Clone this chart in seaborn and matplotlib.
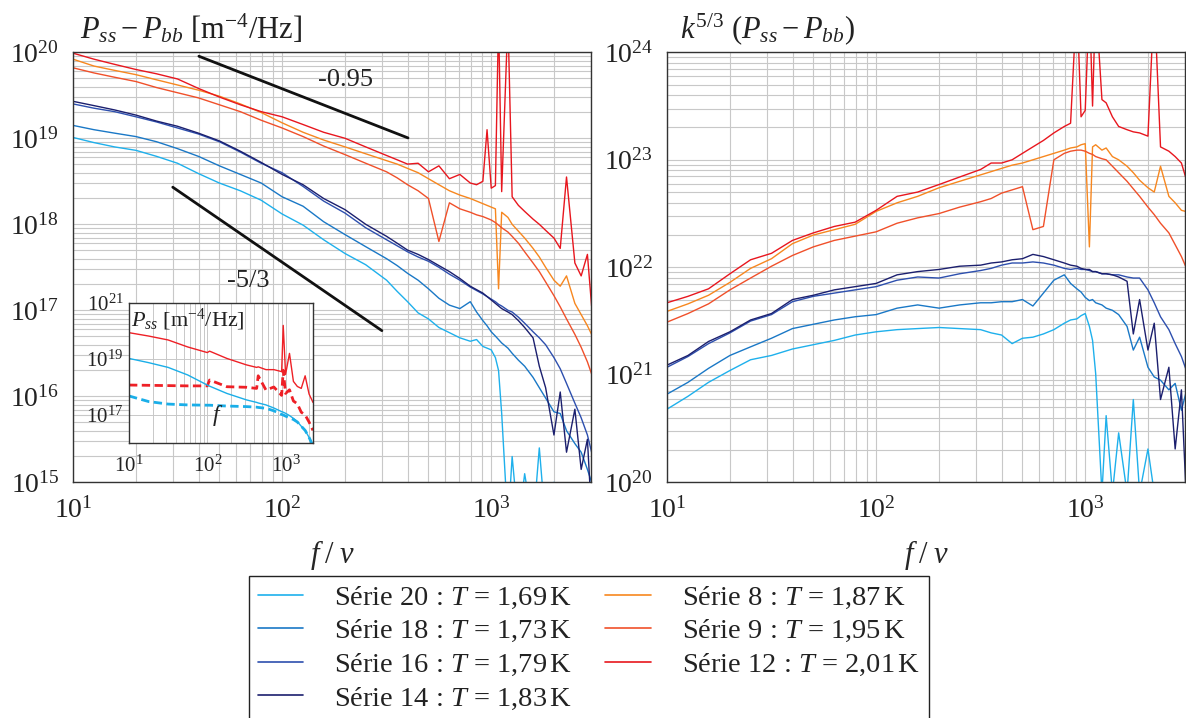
import numpy as np
import pandas as pd
import seaborn as sns
import matplotlib.pyplot as plt
from matplotlib.lines import Line2D
from matplotlib.ticker import LogLocator, LogFormatterSciNotation, NullFormatter, FixedLocator

# frequency grid (Hz), shared by every series of the two main panels
freq_hz = [10, 12.6, 15.8, 20, 25.1, 31.6, 39.8, 50.1, 63.1, 79.4, 100, 126, 158, 200, 251, 316,
           355, 398, 447, 501, 562, 631, 708, 794, 851, 912, 955, 1000, 1047, 1084, 1122, 1202,
           1259, 1349, 1445, 1585, 1698, 1820, 1995, 2138, 2291, 2512, 2692, 2884, 3020]

# left panel : log10(P_ss - P_bb)
p20 = [19.01, 18.95, 18.90, 18.86, 18.79, 18.71, 18.59, 18.48, 18.39, 18.28, 18.12, 17.99, 17.82, 17.66, 17.53, 17.35,
       17.22, 17.10, 16.97, 16.90, 16.80, 16.74, 16.68, 16.64, 16.66, 16.58, 16.56, 16.54, 16.45, 16.30, 15.80, 14.5,
       15.30, 14.5, 15.10, 14.5, 15.40, 14.5, 15.00, 14.5, 14.5, 14.5, 14.5, 14.5, 14.5]
p18 = [19.15, 19.10, 19.06, 19.02, 18.96, 18.88, 18.79, 18.68, 18.58, 18.48, 18.32, 18.21, 18.03, 17.88, 17.74, 17.60,
       17.52, 17.43, 17.35, 17.25, 17.14, 17.06, 17.02, 17.10, 16.98, 16.88, 16.82, 16.75, 16.70, 16.66, 16.62, 16.56,
       16.50, 16.42, 16.35, 16.22, 16.10, 15.98, 15.82, 15.80, 15.60, 15.45, 15.35, 15.15, 15.00]
p16 = [19.40, 19.35, 19.31, 19.25, 19.19, 19.12, 19.05, 18.96, 18.84, 18.71, 18.60, 18.44, 18.27, 18.13, 17.96, 17.82,
       17.75, 17.68, 17.62, 17.57, 17.50, 17.42, 17.35, 17.27, 17.23, 17.19, 17.16, 17.13, 17.10, 17.07, 17.05, 17.00,
       16.98, 16.92, 16.85, 16.75, 16.68, 16.60, 16.45, 16.32, 16.15, 15.92, 15.75, 15.55, 15.35]
p14 = [19.43, 19.38, 19.33, 19.27, 19.20, 19.14, 19.06, 18.97, 18.85, 18.72, 18.58, 18.46, 18.30, 18.17, 18.00, 17.86,
       17.78, 17.70, 17.65, 17.59, 17.52, 17.45, 17.37, 17.28, 17.24, 17.20, 17.16, 17.12, 17.08, 17.05, 17.02, 16.98,
       16.95, 16.88, 16.80, 16.68, 16.35, 16.10, 15.55, 16.05, 15.35, 15.85, 15.15, 15.50, 14.60]
p8 = [19.92, 19.84, 19.79, 19.74, 19.68, 19.62, 19.56, 19.49, 19.40, 19.30, 19.18, 19.07, 18.98, 18.90, 18.82, 18.74,
      18.70, 18.65, 18.60, 18.53, 18.46, 18.39, 18.34, 18.30, 18.27, 18.24, 18.22, 18.20, 18.18, 17.25, 18.14, 18.08,
      18.00, 17.92, 17.84, 17.72, 17.62, 17.50, 17.35, 17.28, 17.40, 17.08, 16.95, 16.82, 16.72]
p9 = [19.82, 19.76, 19.71, 19.66, 19.59, 19.53, 19.47, 19.39, 19.31, 19.21, 19.12, 19.02, 18.91, 18.81, 18.71, 18.61,
      18.54, 18.46, 18.39, 18.30, 17.80, 18.25, 18.18, 18.14, 18.11, 18.09, 18.07, 18.05, 18.02, 17.99, 17.96, 17.91,
      17.86, 17.78, 17.68, 17.55, 17.45, 17.33, 17.17, 17.04, 16.90, 16.72, 16.57, 16.40, 16.26]
p12 = [19.99, 19.92, 19.86, 19.80, 19.75, 19.69, 19.58, 19.48, 19.39, 19.31, 19.25, 19.16, 19.07, 19.00, 18.90, 18.80,
       18.75, 18.70, 18.71, 18.61, 18.68, 18.53, 18.58, 18.48, 18.46, 18.50, 19.10, 18.42, 18.45, 20.40, 18.38, 20.40,
       18.32, 18.22, 18.15, 18.06, 18.00, 17.93, 17.84, 17.72, 18.55, 17.55, 17.40, 17.65, 17.05]

# right panel : log10(k^(5/3) (P_ss - P_bb))
k20 = [20.68, 20.80, 20.93, 21.04, 21.14, 21.18, 21.24, 21.28, 21.32, 21.37, 21.40, 21.42, 21.43, 21.44, 21.43, 21.42,
       21.39, 21.37, 21.29, 21.34, 21.35, 21.38, 21.42, 21.48, 21.51, 21.52, 21.55, 21.57, 21.45, 21.32, 21.01, 19.9,
       20.62, 19.9, 20.46, 19.9, 20.77, 19.9, 20.31, 19.9, 19.9, 19.9, 19.9, 19.9, 19.9]
k18 = [20.82, 20.93, 21.06, 21.18, 21.26, 21.34, 21.43, 21.47, 21.51, 21.54, 21.56, 21.62, 21.65, 21.62, 21.65, 21.67,
       21.67, 21.68, 21.68, 21.70, 21.64, 21.76, 21.88, 21.93, 21.85, 21.80, 21.77, 21.72, 21.69, 21.70, 21.67, 21.65,
       21.62, 21.60, 21.56, 21.45, 21.23, 21.35, 21.07, 20.98, 20.95, 20.86, 20.92, 20.67, 20.82]
k16 = [21.07, 21.17, 21.29, 21.39, 21.50, 21.56, 21.68, 21.73, 21.76, 21.79, 21.82, 21.88, 21.91, 21.90, 21.94, 21.97,
       21.99, 22.02, 22.04, 22.04, 22.05, 22.04, 22.02, 21.99, 21.98, 21.99, 21.98, 21.98, 21.97, 21.96, 21.96, 21.94,
       21.94, 21.93, 21.93, 21.91, 21.90, 21.90, 21.79, 21.67, 21.54, 21.42, 21.29, 21.17, 21.06]
k14 = [21.09, 21.18, 21.31, 21.40, 21.51, 21.57, 21.70, 21.74, 21.79, 21.82, 21.85, 21.93, 21.96, 21.98, 22.01, 22.02,
       22.04, 22.05, 22.07, 22.08, 22.12, 22.10, 22.07, 22.04, 22.02, 22.01, 21.99, 21.98, 21.98, 21.96, 21.96, 21.94,
       21.94, 21.93, 21.91, 21.87, 21.38, 21.70, 21.23, 21.48, 20.77, 21.07, 20.31, 20.86, 19.99]
k8 = [21.59, 21.66, 21.74, 21.86, 21.99, 22.08, 22.22, 22.30, 22.35, 22.40, 22.52, 22.60, 22.66, 22.74, 22.80, 22.86,
      22.89, 22.92, 22.95, 22.97, 23.00, 23.03, 23.06, 23.09, 23.11, 23.12, 23.14, 23.15, 22.19, 23.12, 23.14, 23.09,
      23.11, 23.03, 23.00, 22.94, 22.88, 22.81, 22.74, 22.70, 22.94, 22.66, 22.60, 22.53, 22.52]
k9 = [21.49, 21.57, 21.66, 21.79, 21.90, 22.01, 22.11, 22.19, 22.25, 22.29, 22.33, 22.41, 22.46, 22.50, 22.56, 22.61,
      22.64, 22.69, 22.72, 22.75, 22.35, 22.38, 23.00, 23.06, 23.08, 23.09, 23.09, 23.08, 23.06, 23.05, 23.03, 23.01,
      23.00, 22.94, 22.88, 22.80, 22.73, 22.66, 22.56, 22.49, 22.41, 22.32, 22.21, 22.10, 22.01]
k12 = [21.67, 21.73, 21.80, 21.94, 22.07, 22.13, 22.25, 22.32, 22.38, 22.42, 22.53, 22.66, 22.70, 22.77, 22.84, 22.91,
       22.97, 22.97, 23.00, 23.06, 23.12, 23.18, 23.25, 23.31, 23.34, 24.50, 23.40, 23.46, 24.50, 23.50, 24.50, 23.56,
       23.53, 23.40, 23.31, 23.28, 23.26, 23.25, 23.22, 24.50, 23.12, 23.08, 23.03, 22.97, 22.84]

series = ["Série 20", "Série 18", "Série 16", "Série 14", "Série 8", "Série 9", "Série 12"]
temps = ["1,69", "1,73", "1,79", "1,83", "1,87", "1,95", "2,01"]
colors = ["#1eb0ec", "#1a78c6", "#2d4fae", "#1b1f6e", "#f7871f", "#f0502a", "#e8161e"]

# inset : P_ss (solid) and background (dashed) for two series
inset_freq = [10, 17.8, 31.6, 56.2, 100, 107, 178, 316, 427, 447, 562, 708, 891, 933, 1000, 1122,
              1259, 1413, 1585, 1778, 1995, 2239]
in_red = [19.94, 19.82, 19.68, 19.43, 19.23, 19.28, 19.02, 18.79, 18.70, 18.72, 18.62, 18.62, 18.55, 20.20, 18.45,
          19.20, 18.20, 18.02, 17.95, 18.40, 17.75, 17.45]
in_red_bg = [18.07, 18.06, 18.05, 18.04, 18.04, 18.25, 18.01, 17.99, 17.95, 18.40, 17.89, 18.00, 17.70, 18.60, 17.77,
             17.90, 17.50, 17.40, 17.10, 17.00, 16.75, 16.45]
in_blue = [19.02, 18.87, 18.70, 18.43, 18.07, 18.03, 17.77, 17.54, 17.45, 17.43, 17.36, 17.25, 17.12, 17.10, 17.06,
           16.98, 16.88, 16.76, 16.60, 16.45, 16.20, 15.90]
in_blue_bg = [17.68, 17.48, 17.39, 17.36, 17.35, 17.35, 17.32, 17.30, 17.28, 17.27, 17.24, 17.15, 17.02, 17.00, 16.96,
              16.90, 16.84, 16.75, 16.60, 16.45, 16.20, 15.90]

# slope guides
slope1_f = [40, 400]
slope1_p = [9.0e19, 1.01e19]
slope2_f = [30, 300]
slope2_p = [2.7e18, 5.8e16]

left_vals = [p20, p18, p16, p14, p8, p9, p12]
right_vals = [k20, k18, k16, k14, k8, k9, k12]
frames = []
for name, lv, rv in zip(series, left_vals, right_vals):
    frames.append(pd.DataFrame({"freq": freq_hz, "serie": name,
                                "psd": 10 ** np.array(lv), "comp": 10 ** np.array(rv)}))
df = pd.concat(frames, ignore_index=True)
palette = dict(zip(series, colors))

sns.set_theme(style="white")
plt.rcParams["font.family"] = ["Liberation Serif", "DejaVu Serif"]
plt.rcParams["mathtext.fontset"] = "custom"
plt.rcParams["mathtext.rm"] = "Liberation Serif"
plt.rcParams["mathtext.it"] = "Liberation Serif:italic"
plt.rcParams["mathtext.bf"] = "Liberation Serif:bold"
plt.rcParams["text.color"] = "#222222"

W, H = 1186, 718
fig = plt.figure(figsize=(W / 100, H / 100), dpi=100)
ax1 = fig.add_axes([73 / W, 1 - 482.3 / H, 518 / W, 430 / H])
ax2 = fig.add_axes([667 / W, 1 - 482.3 / H, 518 / W, 430 / H])


def style_axes(ax, ylim):
    ax.set_xscale("log")
    ax.set_yscale("log")
    ax.set_xlim(10, 3000)
    ax.set_ylim(*ylim)
    for axis in (ax.xaxis, ax.yaxis):
        axis.set_major_locator(LogLocator(base=10, numticks=12))
        axis.set_minor_locator(LogLocator(base=10, subs=np.arange(2, 10), numticks=12))
        axis.set_major_formatter(LogFormatterSciNotation())
        axis.set_minor_formatter(NullFormatter())
    ax.grid(True, which="both", color="#c8c8c8", lw=0.8)
    ax.set_axisbelow(True)
    ax.tick_params(which="both", direction="in", color="#888888", labelsize=20, labelcolor="#222222")
    ax.tick_params(which="major", length=5)
    ax.tick_params(which="minor", length=3)
    ax.tick_params(axis="y", pad=10)
    ax.tick_params(axis="x", pad=11)
    for s in ax.spines.values():
        s.set_color("#333333")
        s.set_linewidth(1.0)
    ax.set_xlabel(r"$f\;/\;v$", fontsize=22, labelpad=10)
    ax.set_ylabel("")


sns.lineplot(data=df, x="freq", y="psd", hue="serie", hue_order=series, palette=palette,
             estimator=None, sort=False, lw=1.0, legend=False, ax=ax1)
sns.lineplot(data=df, x="freq", y="comp", hue="serie", hue_order=series, palette=palette,
             estimator=None, sort=False, lw=1.0, legend=False, ax=ax2)
style_axes(ax1, (1e15, 1e20))
style_axes(ax2, (1e20, 1e24))

ax1.plot(slope1_f, slope1_p, color="#111111", lw=2)
ax1.plot(slope2_f, slope2_p, color="#111111", lw=2)
ax1.text(200, 4.8e19, "-0.95", fontsize=19, ha="center", va="center")
ax1.text(69, 2.2e17, "-5/3", fontsize=19, ha="center", va="center")

ax1.text(0.013, 1.033, r"$P_{ss} - P_{bb}$ [m$^{-4}$/Hz]", transform=ax1.transAxes,
         fontsize=22, va="baseline", ha="left")
ax2.text(0.025, 1.033, r"$k^{5/3}\,\,(P_{ss} - P_{bb})$", transform=ax2.transAxes,
         fontsize=22, va="baseline", ha="left")

# inset
axin = fig.add_axes([129 / W, 1 - 443 / H, 184 / W, 140 / H])
axin.set_facecolor("white")
ins = pd.DataFrame({"freq": inset_freq * 4,
                    "val": 10 ** np.array(in_red + in_red_bg + in_blue + in_blue_bg),
                    "curve": ["rs"] * 22 + ["rb"] * 22 + ["bs"] * 22 + ["bb"] * 22})
for key, col, ls, lw in [("bb", "#1aaee8", (0, (3, 1.6)), 2.0), ("rb", "#ee2026", (0, (3, 1.6)), 2.0),
                         ("bs", "#1aaee8", "-", 1.0), ("rs", "#ee2026", "-", 1.0)]:
    sub = ins[ins["curve"] == key]
    sns.lineplot(data=sub, x="freq", y="val", color=col, lw=lw, linestyle=ls,
                 estimator=None, sort=False, legend=False, ax=axin)
axin.set_xscale("log")
axin.set_yscale("log")
axin.set_xlim(10, 2240)
axin.set_ylim(1e16, 1e21)
axin.xaxis.set_major_locator(LogLocator(base=10, numticks=6))
axin.xaxis.set_minor_locator(LogLocator(base=10, subs=np.arange(2, 10), numticks=6))
axin.xaxis.set_minor_formatter(NullFormatter())
axin.yaxis.set_major_locator(FixedLocator([1e17, 1e19, 1e21]))
axin.yaxis.set_minor_locator(FixedLocator([]))
axin.yaxis.set_major_formatter(LogFormatterSciNotation())
axin.xaxis.set_major_formatter(LogFormatterSciNotation())
axin.grid(True, which="both", axis="x", color="#c8c8c8", lw=0.7)
axin.grid(True, which="major", axis="y", color="#c8c8c8", lw=0.7)
axin.set_axisbelow(True)
axin.tick_params(which="both", length=0, labelsize=15, labelcolor="#222222")
axin.tick_params(axis="x", pad=9)
axin.tick_params(axis="y", pad=4)
for s in axin.spines.values():
    s.set_color("#333333")
    s.set_linewidth(1.0)
axin.set_xlabel("")
axin.set_ylabel("")
axin.text(0.01, 0.97, r"$P_{ss}$ [m$^{-4}$/Hz]", transform=axin.transAxes, fontsize=16,
          va="top", ha="left")
axin.text(0.48, 0.2, r"$f$", transform=axin.transAxes, fontsize=17, ha="center", va="center")

handles = [Line2D([], [], color=c, lw=1.2) for c in colors]
labels = [f"{s} : $T$ = {t}$\\,$K" for s, t in zip(series, temps)]
leg = fig.legend(handles, labels, loc="upper left", bbox_to_anchor=(249 / W, 1 - 576 / H), ncol=2,
                 fontsize=20.5, frameon=True, fancybox=False, edgecolor="#222222", framealpha=1,
                 handlelength=1.6, handletextpad=1.1, columnspacing=1.15, labelspacing=0.26,
                 borderpad=0.3, borderaxespad=0)
leg.get_frame().set_linewidth(1.0)

fig.savefig("out.png", dpi=100)
